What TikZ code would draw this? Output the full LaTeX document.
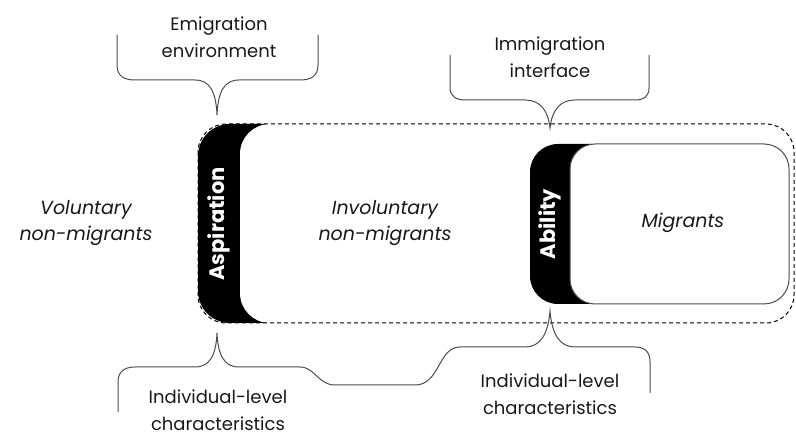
\documentclass[tikz,border=0pt]{standalone}
\usepackage{fontspec}
\setmainfont{Poppins}
\begin{document}
\begin{tikzpicture}[x=1pt,y=-1pt,
  lbl/.style={font=\fontsize{18}{26.5}\selectfont, text=black!90, align=center, inner sep=0pt},
  ilbl/.style={font=\fontsize{19}{26}\selectfont\itshape, text=black!90, align=center, inner sep=0pt},
  vlbl/.style={font=\fontsize{21}{22}\selectfont\bfseries, text=white, rotate=90, inner sep=0pt},
  bracep/.style={draw=black!70, line width=1pt},
]
\useasboundingbox (0,0) rectangle (796,438);
% aspiration black + involuntary white
\fill[black, rounded corners=32pt] (198,124) rectangle (300,323);
\fill[white, rounded corners=30pt] (240,124) rectangle (794,323);
% dashed outer
\draw[dashed, line width=1pt, dash pattern=on 4pt off 3pt, rounded corners=28pt] (198,124) rectangle (794,323);
% ability
\fill[black, rounded corners=28pt] (530,144) rectangle (620,304);
\draw[fill=white, draw=black!70, line width=1pt, rounded corners=25pt] (570,144) rectangle (789,304);
% labels
\node[vlbl] (asp) at (219,224) {Aspiration};
\node[vlbl] (abi) at (550,224) {Ability};
\node[ilbl] (vol) at (86,223) {Voluntary\\non-migrants};
\node[ilbl] (invol) at (385,223) {Involuntary\\non-migrants};
\node[ilbl] (mig) at (683,223) {Migrants};
\node[lbl] (emi) at (219,37) {Emigration\\environment};
\node[lbl] (imm) at (550,57) {Immigration\\interface};
\node[lbl] (ind1) at (218,410) {Individual-level\\characteristics};
\node[lbl] (ind2) at (550,394) {Individual-level\\characteristics};
% braces
\coordinate (c1) at (217,115);
\coordinate (c2) at (550,128);
\coordinate (c3) at (217,333);
\coordinate (c4) at (550,311);
\draw[bracep] (117,35) -- (117,65) .. controls (117,76) and (124,80) .. (135,80) -- (195,80)
  .. controls (210,80) and (216,92) .. (c1) .. controls (218,92) and (224,80) .. (239,80)
  -- (300,80) .. controls (311,80) and (318,76) .. (318,65) -- (318,35);
\draw[bracep] (450,55) -- (450,88) .. controls (450,96) and (456,100) .. (465,100) -- (525,100)
  .. controls (540,100) and (548,110) .. (c2) .. controls (552,110) and (560,100) .. (575,100)
  -- (635,100) .. controls (644,100) and (649,96) .. (649,88) -- (649,55);
\draw[bracep] (118,412) -- (118,382) .. controls (118,372) and (124,367) .. (135,367) -- (195,367)
  .. controls (210,367) and (216,355) .. (c3) .. controls (218,355) and (224,367) .. (239,367)
  -- (300,367) .. controls (315,367) and (318,385) .. (335,385) -- (415,385)
  .. controls (440,385) and (438,347) .. (460,347) -- (525,347)
  .. controls (540,347) and (548,335) .. (c4) .. controls (552,335) and (560,347) .. (575,347)
  -- (635,347) .. controls (645,347) and (650,352) .. (650,362) -- (650,393);
\end{tikzpicture}
\end{document}
